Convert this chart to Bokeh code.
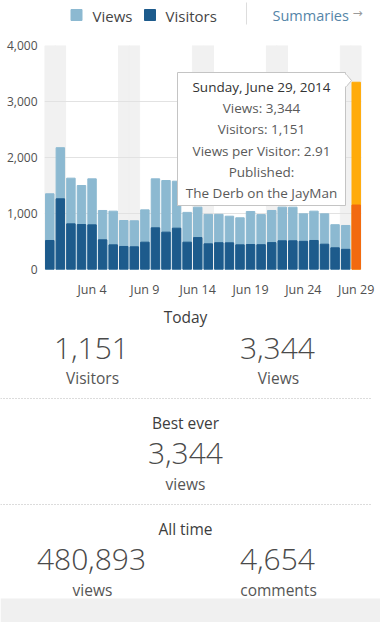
import pandas as pd
from bokeh.plotting import figure
from bokeh.layouts import column
from bokeh.models import Range1d, FixedTicker, NumeralTickFormatter
from bokeh.core.properties import value
from bokeh.embed import file_html
from bokeh.resources import INLINE

# ---------------- data ----------------
days = ["2014-05-31", "2014-06-01", "2014-06-02", "2014-06-03", "2014-06-04", "2014-06-05",
        "2014-06-06", "2014-06-07", "2014-06-08", "2014-06-09", "2014-06-10", "2014-06-11",
        "2014-06-12", "2014-06-13", "2014-06-14", "2014-06-15", "2014-06-16", "2014-06-17",
        "2014-06-18", "2014-06-19", "2014-06-20", "2014-06-21", "2014-06-22", "2014-06-23",
        "2014-06-24", "2014-06-25", "2014-06-26", "2014-06-27", "2014-06-28", "2014-06-29"]
views = [1352, 2175, 1631, 1500, 1619, 1054, 1042, 875, 870, 1065,
         1619, 1589, 1577, 1020, 1113, 985, 985, 952, 923, 1036,
         980, 1054, 1113, 1113, 994, 1042, 994, 800, 786, 3344]
visitors = [518, 1262, 815, 803, 797, 530, 440, 411, 405, 488,
            744, 667, 738, 488, 570, 458, 478, 476, 440, 446,
            443, 480, 512, 512, 503, 518, 452, 387, 360, 1151]
x_tick_days = ["2014-06-04", "2014-06-09", "2014-06-14", "2014-06-19", "2014-06-24", "2014-06-29"]
x_tick_labels = ["Jun 4", "Jun 9", "Jun 14", "Jun 19", "Jun 24", "Jun 29"]
y_ticks = [0, 1000, 2000, 3000, 4000]
highlight_day = "2014-06-29"

tooltip_lines = ["Sunday, June 29, 2014", "Views: 3,344", "Visitors: 1,151",
                 "Views per Visitor: 2.91", "Published:", "The Derb on the JayMan"]

today_numbers = ["1,151", "3,344"]
today_labels = ["Visitors", "Views"]
best_number = ["3,344"]
best_label = ["views"]
alltime_numbers = ["480,893", "4,654"]
alltime_labels = ["views", "comments"]

# ---------------- styles ----------------
C_VIEWS = "#8cb9d1"
C_VISIT = "#1d5b8c"
C_VIEWS_HL = "#ffab0a"
C_VISIT_HL = "#f26a10"
C_BAND = "#f1f1f1"
C_TEXT = "#3d3d3d"
C_SUB = "#555555"
FONT = value("Open Sans")
NUMFONT = value("'Open Sans Light', 'Open Sans'")

idx = list(range(len(days)))
dts = pd.to_datetime(days)
weekend_idx = [i for i, d in zip(idx, dts) if d.weekday() >= 5]
view_colors = [C_VIEWS_HL if d == highlight_day else C_VIEWS for d in days]
visit_colors = [C_VISIT_HL if d == highlight_day else C_VISIT for d in days]
tick_pos = [days.index(d) for d in x_tick_days]

# ---------------- header ----------------
h = figure(width=380, height=38, x_range=Range1d(0, 380), y_range=Range1d(38, 0),
           output_backend="svg", toolbar_location=None, x_axis_type=None, y_axis_type=None,
           min_border=0, frame_align=False)
h.outline_line_color = None
h.grid.visible = False
h.rect(x=[76, 149.5], y=[14.5, 14.5], width=11, height=11, color=[C_VIEWS, C_VISIT])
h.text(x=[92, 165], y=[15, 15], text=["Views", "Visitors"], text_font=FONT,
       text_font_size="15px", text_color="#454545", text_baseline="middle")
h.segment(x0=[246], y0=[2], x1=[246], y1=[24], line_color="#dddddd", line_width=1)
h.text(x=[272], y=[14.5], text=["Summaries"], text_font=FONT, text_font_size="14.5px",
       text_color="#5585a8", text_baseline="middle")
h.text(x=[352], y=[12], text=["→"], text_font=value("DejaVu Sans"), text_font_size="12px",
       text_color="#9a9a9a", text_baseline="middle")

# ---------------- chart ----------------
p = figure(width=380, height=262, x_range=Range1d(-0.5, len(days) - 0.5),
           y_range=Range1d(0, 4000), output_backend="svg", toolbar_location=None,
           min_border_left=44, min_border_right=19, min_border_top=7, min_border_bottom=31,
           frame_align=False)
p.outline_line_color = None
p.xgrid.grid_line_color = None
p.ygrid.grid_line_color = "#e2e2e2"
p.ygrid.ticker = FixedTicker(ticks=y_ticks)

p.yaxis.ticker = FixedTicker(ticks=y_ticks)
p.yaxis.formatter = NumeralTickFormatter(format="0,0")
p.xaxis.ticker = FixedTicker(ticks=tick_pos)
p.xaxis.major_label_overrides = {pos: lab for pos, lab in zip(tick_pos, x_tick_labels)}
for ax in (p.xaxis[0], p.yaxis[0]):
    ax.axis_line_color = None
    ax.major_tick_line_color = None
    ax.minor_tick_line_color = None
    ax.major_tick_in = 0
    ax.major_tick_out = 0
    ax.minor_tick_in = 0
    ax.minor_tick_out = 0
    ax.major_label_text_font = "Open Sans"
    ax.major_label_text_color = "#505050"
p.yaxis.major_label_text_font_size = "12px"
p.yaxis.major_label_standoff = 7
p.xaxis.major_label_text_font_size = "12.5px"
p.xaxis.major_label_standoff = 11

bands = p.vbar(x=weekend_idx, top=4000, width=1, color=C_BAND)
bands.level = "image"
p.vbar(x=idx, top=views, width=0.8, color=view_colors)
p.vbar(x=idx, top=visitors, width=0.8, color=visit_colors)


# tooltip (static)
def xd(px):
    return (px - 44) / 317 * len(days) - 0.5


def yd(py):
    return (269 - py) / 224 * 4000


p.quad(left=[xd(177)], right=[xd(345)], top=[yd(72)], bottom=[yd(205)],
       fill_color="white", line_color="#c4c4c4", line_width=1)
p.patch(x=[xd(345), xd(351), xd(345)], y=[yd(73), yd(80), yd(87)],
        fill_color="white", line_color="#c4c4c4", line_width=1)
p.segment(x0=[xd(345)], y0=[yd(74)], x1=[xd(345)], y1=[yd(86)], line_color="white", line_width=2)
tt_y = [86, 107, 128, 150, 171, 192]
p.text(x=[xd(261)] * len(tooltip_lines), y=[yd(v) for v in tt_y], text=tooltip_lines,
       text_align="center", text_baseline="middle", text_font=FONT, text_font_size="13.5px",
       text_color=["#333333"] + ["#5a5a5a"] * 5)

# ---------------- stats ----------------
s = figure(width=380, height=322, x_range=Range1d(0, 380), y_range=Range1d(622, 300),
           output_backend="svg", toolbar_location=None, x_axis_type=None, y_axis_type=None,
           min_border=0, frame_align=False)
s.outline_line_color = None
s.grid.visible = False

s.text(x=[185], y=[316], text=["Today"], text_align="center", text_baseline="middle",
       text_font=FONT, text_font_size="15.5px", text_color=C_TEXT)
s.text(x=[91, 277], y=[348, 348], text=today_numbers, text_align="center",
       text_baseline="middle", text_font=NUMFONT, text_font_size="30px", text_color="#4a4a4a")
s.text(x=[92, 278], y=[377, 377], text=today_labels, text_align="center",
       text_baseline="middle", text_font=FONT, text_font_size="15.5px", text_color=C_SUB)
s.segment(x0=[0], y0=[398], x1=[372], y1=[398], line_color="#b8b8b8", line_dash="1 2")

s.text(x=[185], y=[422], text=["Best ever"], text_align="center", text_baseline="middle",
       text_font=FONT, text_font_size="15.5px", text_color=C_TEXT)
s.text(x=[185], y=[453], text=best_number, text_align="center",
       text_baseline="middle", text_font=NUMFONT, text_font_size="30px", text_color="#4a4a4a")
s.text(x=[185], y=[483], text=best_label, text_align="center",
       text_baseline="middle", text_font=FONT, text_font_size="15.5px", text_color=C_SUB)
s.segment(x0=[0], y0=[504], x1=[372], y1=[504], line_color="#b8b8b8", line_dash="1 2")

s.text(x=[185], y=[528], text=["All time"], text_align="center", text_baseline="middle",
       text_font=FONT, text_font_size="15.5px", text_color=C_TEXT)
s.text(x=[91, 277], y=[559, 559], text=alltime_numbers, text_align="center",
       text_baseline="middle", text_font=NUMFONT, text_font_size="30px", text_color="#4a4a4a")
s.text(x=[92, 278], y=[589, 589], text=alltime_labels, text_align="center",
       text_baseline="middle", text_font=FONT, text_font_size="15.5px", text_color=C_SUB)
s.quad(left=[0], right=[380], top=[598], bottom=[622], fill_color="#f0f0f0", line_color=None)

layout = column(h, p, s, spacing=0)
open("out.html", "w").write(file_html(layout, INLINE))
